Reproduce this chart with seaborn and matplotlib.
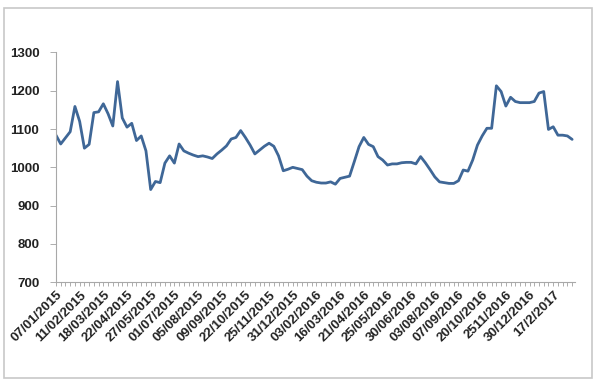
import numpy as np
import pandas as pd
import seaborn as sns
import matplotlib.pyplot as plt
from matplotlib.patches import Rectangle

# weekly price values (110 weeks)
prices = [
    1084, 1061, 1077, 1093, 1159, 1120, 1050, 1060, 1143, 1145,
    1166, 1140, 1108, 1224, 1129, 1105, 1115, 1070, 1082, 1043,
    942, 963, 960, 1011, 1030, 1011, 1061, 1043, 1037, 1032,
    1028, 1030, 1027, 1023, 1035, 1045, 1056, 1074, 1078, 1096,
    1078, 1058, 1035, 1045, 1055, 1063, 1055, 1030, 991, 995,
    1000, 997, 994, 977, 965, 961, 959, 959, 962, 956,
    971, 974, 977, 1015, 1054, 1078, 1060, 1054, 1028, 1019,
    1006, 1009, 1009, 1012, 1013, 1013, 1009, 1028, 1012, 994,
    975, 962, 960, 958, 958, 965, 993, 990, 1019, 1058,
    1082, 1102, 1102, 1213, 1198, 1160, 1183, 1172, 1169, 1169,
    1169, 1172, 1194, 1198, 1099, 1106, 1084, 1084, 1082, 1073,
]

# one label every 5 weeks
tick_labels = [
    '07/01/2015', '11/02/2015', '18/03/2015', '22/04/2015', '27/05/2015',
    '01/07/2015', '05/08/2015', '09/09/2015', '22/10/2015', '25/11/2015',
    '31/12/2015', '03/02/2016', '16/03/2016', '21/04/2016', '25/05/2016',
    '30/06/2016', '03/08/2016', '07/09/2016', '20/10/2016', '2511/2016',
    '30/12/2016', '17/2/2017',
]

df = pd.DataFrame({'week': np.arange(len(prices)), 'price': prices})

sns.set_style('white')
plt.rcParams['font.family'] = ['Liberation Sans', 'DejaVu Sans']
fig = plt.figure(figsize=(6, 3.86), dpi=100)
ax = fig.add_axes([0.0933, 0.269, 0.865, 0.595])

sns.lineplot(data=df, x='week', y='price', ax=ax, color='#3f6797', linewidth=2)

ax.set_ylim(700, 1300)
ax.set_yticks(range(700, 1301, 100))
ax.set_xlim(0, len(prices) - 0.4)
ax.set_xticks(range(0, len(prices), 5))
ax.set_xticklabels(tick_labels, rotation=45, ha='right', rotation_mode='anchor')
ax.set_xticks(range(len(prices)), minor=True)

for lab in ax.get_xticklabels() + ax.get_yticklabels():
    lab.set_fontweight('bold')
    lab.set_color('#222222')
ax.tick_params(axis='x', which='both', direction='out', length=3, width=0.6,
               color='#a0a0a0', labelsize=9.5, pad=2, bottom=True)
ax.tick_params(axis='y', direction='out', length=4, width=0.6, color='#a0a0a0',
               labelsize=9.5, pad=8, left=True)

ax.set_xlabel('')
ax.set_ylabel('')
sns.despine(ax=ax)
for s in ['left', 'bottom']:
    ax.spines[s].set_color('#a8a8a8')
    ax.spines[s].set_linewidth(0.8)

# light chart-area frame
fig.patches.append(Rectangle((4 / 600, 8 / 386), 588 / 600, 370 / 386,
                             transform=fig.transFigure, fill=False,
                             edgecolor='#c8c8c8', linewidth=1.2))

fig.savefig('out.png', dpi=100)
